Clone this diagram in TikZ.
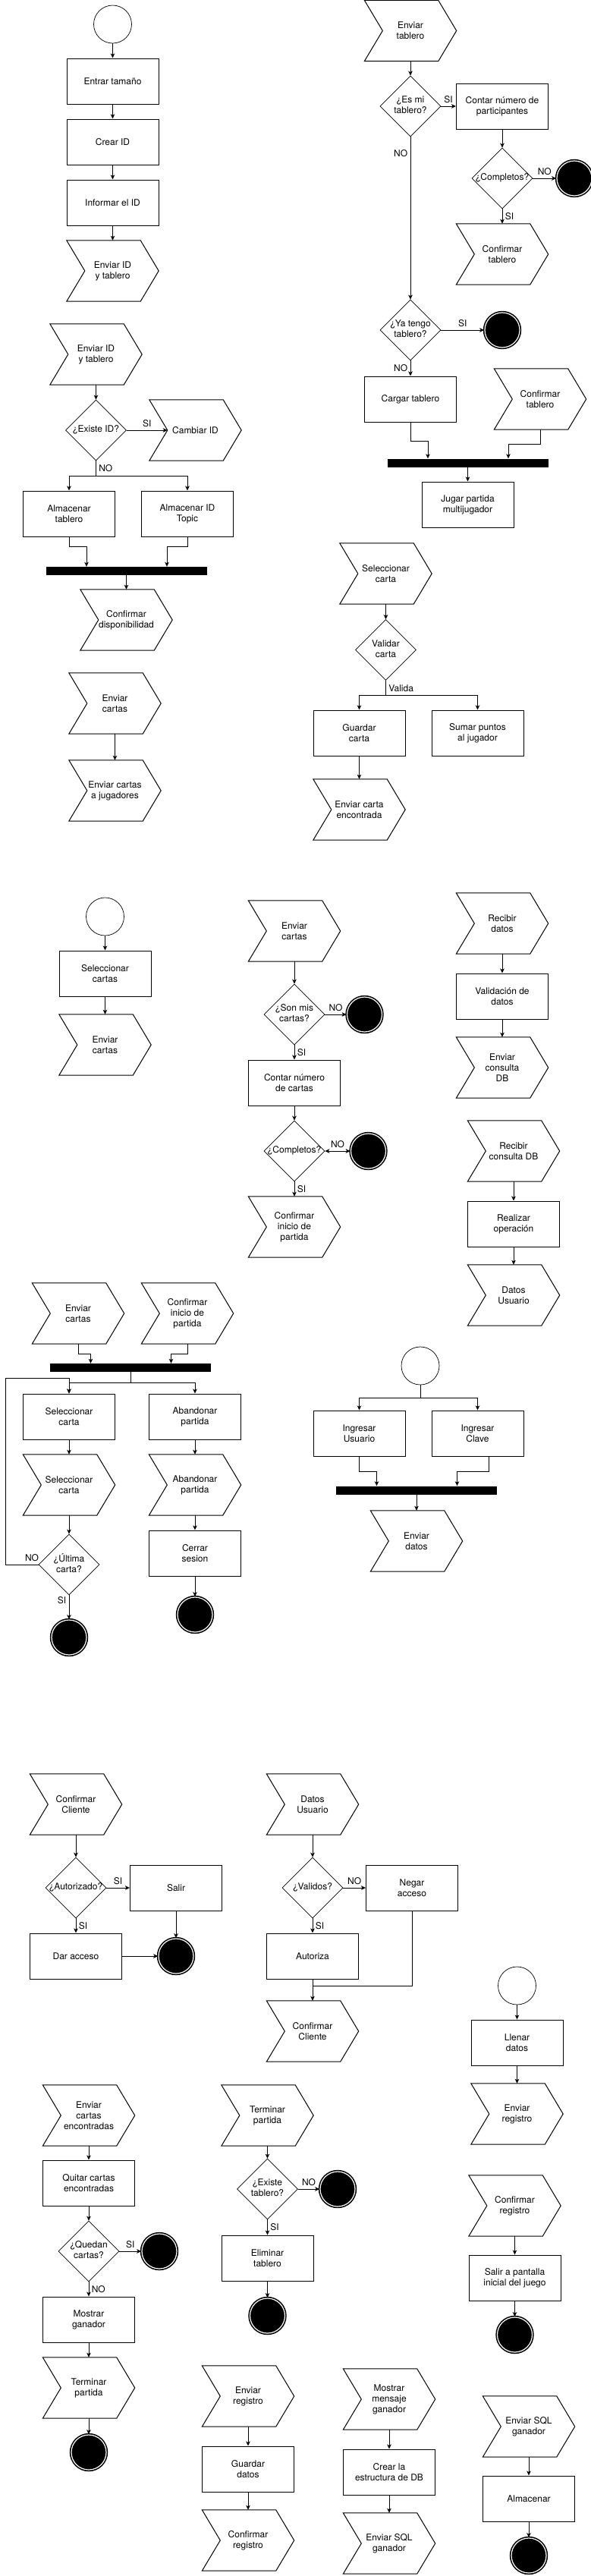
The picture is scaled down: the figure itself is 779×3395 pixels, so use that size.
\documentclass[tikz,border=0pt]{standalone}
\usepackage{fontspec}
\setmainfont{TeX Gyre Heros}
\usetikzlibrary{arrows.meta,shapes.geometric}
\newcommand{\dtxt}[1]{\makebox[0pt]{\begin{tabular}{@{}c@{}}#1\end{tabular}}}

\begin{document}
\begin{tikzpicture}[x=1pt,y=-1pt,>={Stealth[length=6pt,width=5.5pt,inset=1.5pt]},
  every node/.style={font=\fontsize{12}{14}\selectfont},
  proc/.style={draw,line width=1pt,rectangle,minimum width=121pt,minimum height=60pt,align=center,inner sep=1pt},
  chev/.style={rectangle,minimum width=121pt,minimum height=80pt,align=center,inner sep=1pt},
  chevline/.style={line width=1pt,line join=miter},
  dec/.style={draw,line width=0.6pt,diamond,minimum width=80pt,minimum height=80pt,inner sep=0pt},
  ini/.style={draw,line width=0.7pt,circle,minimum size=50pt,inner sep=0pt},
  fin/.style={circle,fill=black,draw,line width=1.6pt,double=white,double distance=1.2pt,minimum size=46pt,inner sep=0pt},
  bar/.style={rectangle,fill=black,minimum width=212pt,minimum height=11pt,inner sep=0pt},
  link/.style={line width=1pt},
  flow/.style={link,->}]
\useasboundingbox (0,0) rectangle (779,3395);

\node[ini] (s1) at (148.5,32) {};
\node[proc] (e1) at (148.5,107) {Entrar tamaño};
\node[proc] (e2) at (148.5,187) {Crear ID};
\node[proc] (e3) at (148.5,267) {Informar el ID};
\node[chev] (e4) at (148.5,357) {Enviar ID\\y tablero};
\draw[flow] (s1) -- (e1);
\draw[flow] (e1) -- (e2);
\draw[flow] (e2) -- (e3);
\draw[flow] (e3) -- (e4);

\node[chev] (t1) at (541,40.5) {Enviar\\tablero};
\node[dec] (t2) at (541,140) {\dtxt{¿Es mi\\tablero?}};
\node[proc] (t3) at (662,140) {Contar número de\\participantes};
\node[dec] (t4) at (662,235) {\dtxt{¿Completos?}};
\node[fin] (t5) at (757,235) {};
\node[chev] (t6) at (662,335) {Confirmar\\tablero};
\node[dec] (t7) at (541,435) {\dtxt{¿Ya tengo\\tablero?}};
\node[fin] (t8) at (662,435) {};
\node[proc] (t9) at (541,526) {Cargar tablero};
\node[chev] (t10) at (712,526) {Confirmar\\tablero};
\node[bar] (t11) at (616.5,610) {};
\node[proc] (t12) at (616.5,665) {Jugar partida\\multijugador};
\draw[flow] (t1) -- (t2);
\draw[flow] (t2) -- node[above]{SI} (t3);
\draw[flow] (t3) -- (t4);
\draw[flow] (t4) -- node[above]{NO} (t5);
\draw[flow] (t4) -- node[right]{SI} (t6);
\draw[flow] (t2) -- node[pos=0.1,left]{NO} (t7);
\draw[flow] (t7) -- node[above]{SI} (t8);
\draw[flow] (t7) -- node[left]{NO} (t9);
\draw[flow] (t9.south) -- ++(0,25) -| ([xshift=-52.5pt]t11.north);
\draw[flow] (t10.south) -- ++(0,19) -| ([xshift=53.5pt]t11.north);
\draw[flow] (t11) -- (t12);

\node[chev] (i1) at (126.5,467) {Enviar ID\\y tablero};
\node[dec] (i2) at (126.5,567) {\dtxt{¿Existe ID?}};
\node[chev] (i3) at (257.5,567) {Cambiar ID};
\node[proc] (i4) at (91,677) {Almacenar\\tablero};
\node[proc] (i5) at (247,677) {Almacenar ID\\Topic};
\node[bar] (i6) at (166.5,752.5) {};
\node[chev] (i7) at (166.5,817) {Confirmar\\disponibilidad};
\draw[flow] (i1) -- (i2);
\draw[flow] (i2) -- node[above]{SI} ([xshift=24pt]i3.west);
\draw[link] (i2.south) -- node[right]{NO} ++(0,20) coordinate (isp);
\draw[flow] (isp) -| (i4);
\draw[flow] (isp) -| (i5);
\draw[flow] (i4.south) -- ++(0,13) -| ([xshift=-52.5pt]i6.north);
\draw[flow] (i5.south) -- ++(0,13) -| ([xshift=53.5pt]i6.north);
\draw[flow] (i6) -- (i7);

\node[chev] (c1) at (151.5,927) {Enviar\\cartas};
\node[chev] (c2) at (151.5,1042) {Enviar cartas\\a jugadores};
\draw[flow] (c1) -- (c2);

\node[chev] (v1) at (508.5,756) {Seleccionar\\carta};
\node[dec] (v2) at (508.5,856.5) {\dtxt{Validar\\carta}};
\node[proc] (v3) at (473.5,966) {Guardar\\carta};
\node[proc] (v4) at (629.5,966) {Sumar puntos\\al jugador};
\node[chev] (v5) at (473.5,1067) {Enviar carta\\encontrada};
\draw[flow] (v1) -- (v2);
\draw[link] (v2.south) -- node[right]{Valida} ++(0,20) coordinate (vsp);
\draw[flow] (vsp) -| (v3);
\draw[flow] (vsp) -| (v4);
\draw[flow] (v3) -- (v5);

\node[ini] (a1) at (138.5,1208) {};
\node[proc] (a2) at (138.5,1283) {Seleccionar\\cartas};
\node[chev] (a3) at (138.5,1377) {Enviar\\cartas};
\draw[flow] (a1) -- (a2);
\draw[flow] (a2) -- (a3);

\node[chev] (b1) at (388,1227) {Enviar\\cartas};
\node[dec] (b2) at (388,1337) {\dtxt{¿Son mis\\cartas?}};
\node[fin] (b3) at (480.5,1337) {};
\node[proc] (b4) at (388,1427) {Contar número\\de cartas};
\node[dec] (b5) at (388,1517) {\dtxt{¿Completos?}};
\node[fin] (b6) at (485.5,1517) {};
\node[chev] (b7) at (388,1617) {Confirmar\\inicio de\\partida};
\draw[flow] (b1) -- (b2);
\draw[flow] (b2) -- node[above]{NO} (b3);
\draw[flow] (b2) -- node[right]{SI} (b4);
\draw[flow] (b4) -- (b5);
\draw[link,<->] (b5) -- node[above]{NO} (b6);
\draw[flow] (b5) -- node[right]{SI} (b7);

\node[chev] (d1) at (662,1217) {Recibir\\datos};
\node[proc] (d2) at (662,1313) {Validación de\\datos};
\node[chev] (d3) at (662,1407) {Enviar\\consulta\\DB};
\draw[flow] (d1) -- (d2);
\draw[flow] (d2) -- (d3);

\node[chev] (q1) at (677,1517) {Recibir\\consulta DB};
\node[proc] (q2) at (677,1613) {Realizar\\operación};
\node[chev] (q3) at (677,1707) {Datos\\Usuario};
\draw[flow] (q1) -- (q2);
\draw[flow] (q2) -- (q3);

\node[chev] (p1) at (103,1731) {Enviar\\cartas};
\node[chev] (p2) at (247,1731) {Confirmar\\inicio de\\partida};
\node[bar] (p3) at (172,1802.5) {};
\node[proc] (p4) at (91,1867) {Seleccionar\\carta};
\node[proc] (p5) at (257,1867) {Abandonar\\partida};
\node[chev] (p6) at (91,1957) {Seleccionar\\carta};
\node[chev] (p7) at (257,1957) {Abandonar\\partida};
\node[dec] (p8) at (91,2062) {\dtxt{¿Última\\carta?}};
\node[fin] (p9) at (91,2158) {};
\node[proc] (p10) at (257,2047) {Cerrar\\sesion};
\node[fin] (p11) at (257,2128) {};
\draw[flow] (p1.south) -- ++(0,13) -| ([xshift=-52.5pt]p3.north);
\draw[flow] (p2.south) -- ++(0,13) -| ([xshift=53.5pt]p3.north);
\draw[link] (p3.south) -- ++(0,14) coordinate (psp);
\draw[flow] (psp) -| (p4);
\draw[flow] (psp) -| (p5);
\draw[flow] (p4) -- (p6);
\draw[flow] (p5) -- (p7);
\draw[flow] (p6) -- (p8);
\draw[flow] (p7) -- (p10);
\draw[flow] (p8.west) -- node[pos=0.2,above]{NO} ++(-43.5,0) |- ([yshift=20pt]p4.north) -- (p4.north);
\draw[flow] (p8) -- node[pos=0.2,left]{SI} (p9);
\draw[flow] (p10) -- (p11);

\node[ini] (u1) at (554,1800) {};
\node[proc] (u2) at (473.5,1889) {Ingresar\\Usuario};
\node[proc] (u3) at (629.5,1889) {Ingresar\\Clave};
\node[bar] (u4) at (549,1964) {};
\node[chev] (u5) at (549,2031) {Enviar\\datos};
\draw[link] (u1.south) -- ++(0,17) coordinate (usp);
\draw[flow] (usp) -| (u2);
\draw[flow] (usp) -| (u3);
\draw[flow] (u2.south) -- ++(0,20) -| ([xshift=-52.5pt]u4.north);
\draw[flow] ([xshift=15pt]u3.south) -- ++(0,20) -| ([xshift=53.5pt]u4.north);
\draw[flow] (u4) -- (u5);

\node[chev] (k1) at (100,2378) {Confirmar\\Cliente};
\node[dec] (k2) at (100,2488) {\dtxt{¿Autorizado?}};
\node[proc] (k3) at (232,2488) {Salir};
\node[proc] (k4) at (100,2578) {Dar acceso};
\node[fin] (k5) at (232,2578) {};
\draw[flow] (k1) -- (k2);
\draw[flow] (k2) -- node[above]{SI} (k3);
\draw[flow] (k2) -- node[right]{SI} (k4);
\draw[flow] (k3) -- (k5);
\draw[flow] (k4) -- (k5);

\node[chev] (w1) at (412,2378) {Datos\\Usuario};
\node[dec] (w2) at (412,2488) {\dtxt{¿Validos?}};
\node[proc] (w3) at (543,2488) {Negar\\acceso};
\node[proc] (w4) at (412,2578) {Autoriza};
\node[chev] (w5) at (412,2677) {Confirmar\\Cliente};
\draw[flow] (w1) -- (w2);
\draw[flow] (w2) -- node[above]{NO} (w3);
\draw[flow] (w2) -- node[right]{SI} (w4);
\draw[flow] (w4) -- (w5);
\draw[link] (w3.south) |- ([yshift=-9pt]w4.south);

\node[ini] (r1) at (681.5,2617) {};
\node[proc] (r2) at (681.5,2692) {Llenar\\datos};
\node[chev] (r3) at (681.5,2786) {Enviar\\registro};
\draw[flow] (r1) -- (r2);
\draw[flow] (r2) -- (r3);

\node[chev] (x1) at (678.5,2907) {Confirmar\\registro};
\node[proc] (x2) at (678.5,3002) {Salir a pantalla\\inicial del juego};
\node[fin] (x3) at (678.5,3077) {};
\draw[flow] (x1) -- (x2);
\draw[flow] (x2) -- (x3);

\node[chev] (m1) at (117,2788) {Enviar\\cartas\\encontradas};
\node[proc] (m2) at (117,2877) {Quitar cartas\\encontradas};
\node[dec] (m3) at (117,2967) {\dtxt{¿Quedan\\cartas?}};
\node[fin] (m4) at (210,2967) {};
\node[proc] (m5) at (117,3057) {Mostrar\\ganador};
\node[chev] (m6) at (117,3147) {Terminar\\partida};
\node[fin] (m7) at (117,3232) {};
\draw[flow] (m1) -- (m2);
\draw[flow] (m2) -- (m3);
\draw[flow] (m3) -- node[above]{SI} (m4);
\draw[flow] (m3) -- node[right]{NO} (m5);
\draw[flow] (m5) -- (m6);
\draw[flow] (m6) -- (m7);

\node[chev] (n1) at (352.5,2788) {Terminar\\partida};
\node[dec] (n2) at (352.5,2885) {\dtxt{¿Existe\\tablero?}};
\node[fin] (n3) at (445,2885) {};
\node[proc] (n4) at (352.5,2976) {Eliminar\\tablero};
\node[fin] (n5) at (352.5,3052) {};
\draw[flow] (n1) -- (n2);
\draw[flow] (n2) -- node[above]{NO} (n3);
\draw[flow] (n2) -- node[right]{SI} (n4);
\draw[flow] (n4) -- (n5);

\node[chev] (g1) at (327,3158) {Enviar\\registro};
\node[proc] (g2) at (327,3254) {Guardar\\datos};
\node[chev] (g3) at (327,3348) {Confirmar\\registro};
\draw[flow] (g1) -- (g2);
\draw[flow] (g2) -- (g3);

\node[chev] (h1) at (513,3162) {Mostrar\\mensaje\\ganador};
\node[proc] (h2) at (513,3258) {Crear la\\estructura de DB};
\node[chev] (h3) at (513,3352) {Enviar SQL\\ganador};
\draw[flow] (h1) -- (h2);
\draw[flow] (h2) -- (h3);

\node[chev] (z1) at (697,3198) {Enviar SQL\\ganador};
\node[proc] (z2) at (697,3293) {Almacenar};
\node[fin] (z3) at (697,3368) {};
\draw[flow] (z1) -- (z2);
\draw[flow] (z2) -- (z3);

\foreach \n in {e4,t1,t6,t10,i1,i3,i7,c1,c2,v1,v5,a3,b1,b7,d1,d3,q1,q3,p1,p2,p6,p7,u5,k1,w1,w5,r3,x1,m1,m6,n1,g1,g3,h1,h3,z1}
  \draw[chevline] (\n.north west) -- ([xshift=-24pt]\n.north east) -- (\n.east) -- ([xshift=-24pt]\n.south east) -- (\n.south west) -- ([xshift=24pt]\n.west) -- cycle;
\end{tikzpicture}
\end{document}
